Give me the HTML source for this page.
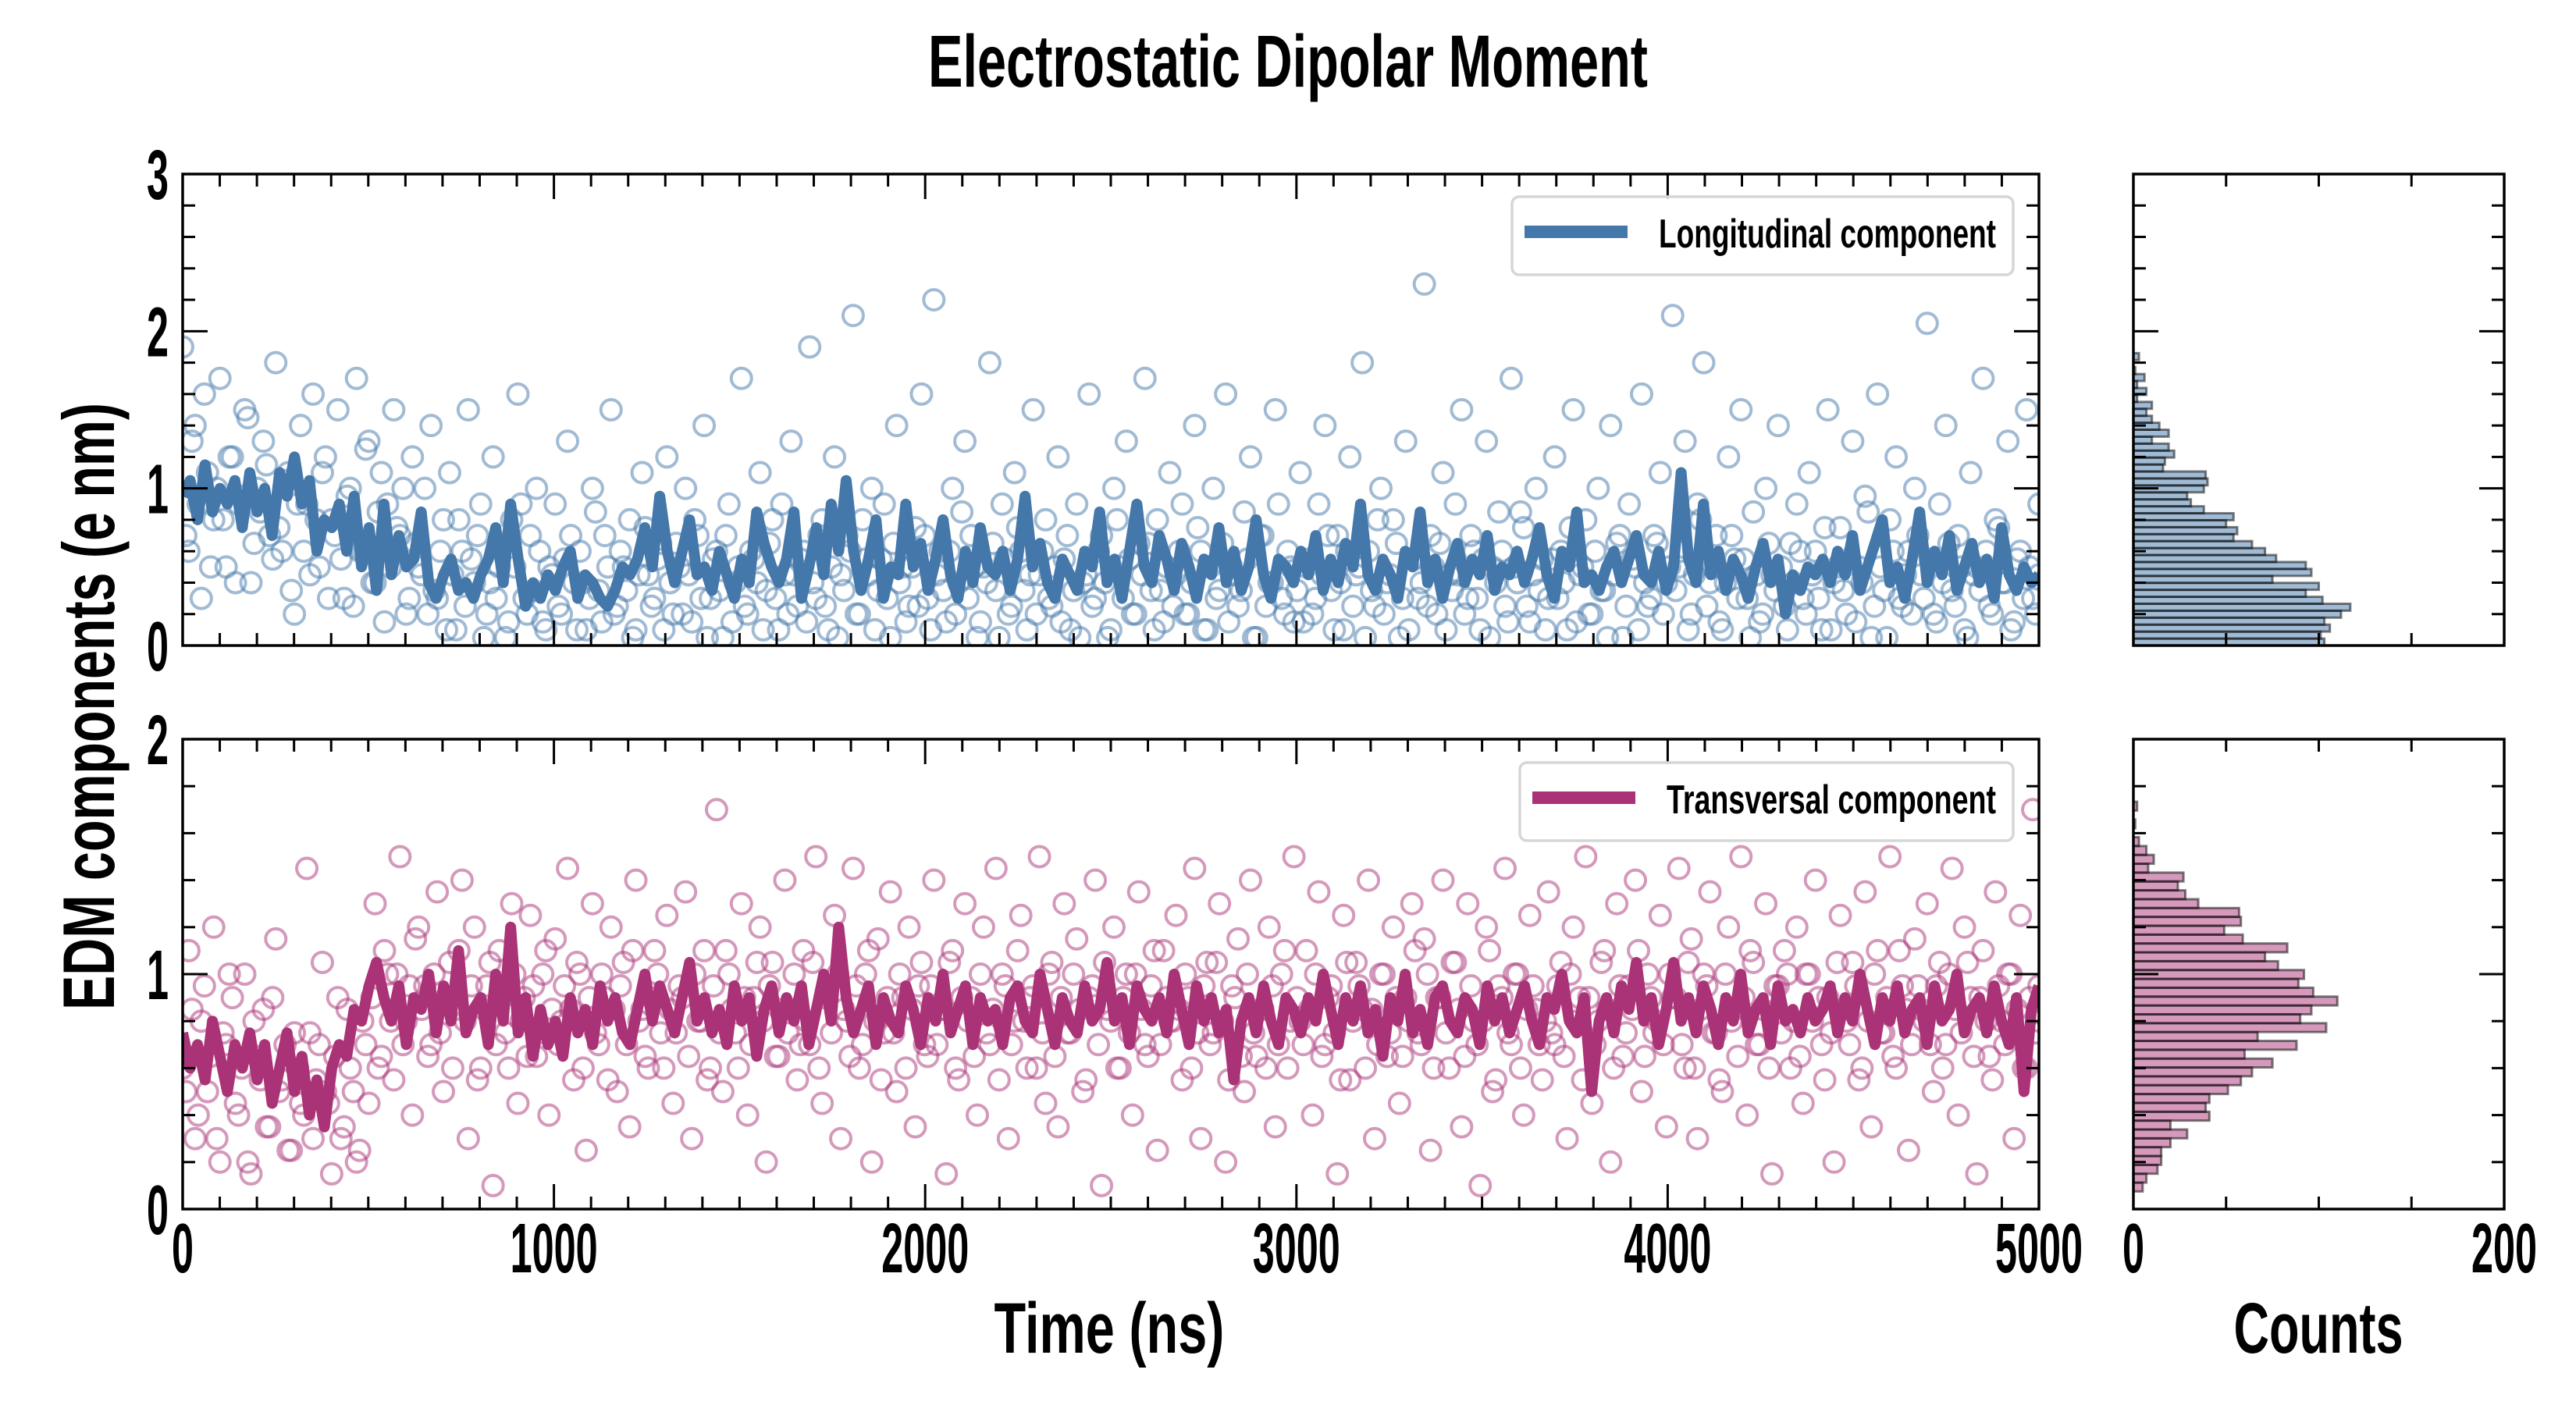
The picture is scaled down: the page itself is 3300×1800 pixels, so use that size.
<!DOCTYPE html>
<html><head><meta charset="utf-8">
<style>
html,body{margin:0;padding:0;background:#fff;}
svg{display:block;}
text{font-family:"Liberation Sans Narrow","Liberation Sans",sans-serif;font-weight:bold;fill:#000;}
</style></head>
<body>
<svg id="chart" width="3300" height="1800" viewBox="0 0 3300 1800" xmlns="http://www.w3.org/2000/svg">
<defs>
<clipPath id="clipTop"><rect x="234" y="223" width="2378" height="604"/></clipPath>
<clipPath id="clipBot"><rect x="234" y="947" width="2378" height="602"/></clipPath>
</defs>
<text x="1650" y="111" font-size="95" text-anchor="middle" textLength="922" lengthAdjust="spacingAndGlyphs">Electrostatic Dipolar Moment</text>
<text transform="translate(146,905) rotate(-90)" font-size="94" text-anchor="middle" textLength="778" lengthAdjust="spacingAndGlyphs">EDM components (e nm)</text>
<text x="1421" y="1733" font-size="92" text-anchor="middle" textLength="295" lengthAdjust="spacingAndGlyphs">Time (ns)</text>
<text x="2970" y="1733" font-size="92" text-anchor="middle" textLength="217" lengthAdjust="spacingAndGlyphs">Counts</text>
<g id="layer"></g>
</svg>
<script>
// ---- data ----
var lineTop = [
0.95,1.05,0.8,1.15,0.85,1.0,0.9,1.05,0.75,1.1,
0.85,1.0,0.7,1.1,0.95,1.2,0.9,1.05,0.6,0.8,
0.75,0.9,0.6,0.95,0.5,0.75,0.35,0.9,0.45,0.7,
0.5,0.55,0.85,0.4,0.3,0.45,0.55,0.35,0.4,0.3,
0.45,0.55,0.75,0.4,0.9,0.55,0.25,0.4,0.3,0.45,
0.35,0.5,0.6,0.3,0.45,0.4,0.3,0.25,0.35,0.5,
0.45,0.55,0.75,0.5,0.95,0.6,0.4,0.6,0.8,0.45,
0.5,0.35,0.6,0.45,0.3,0.55,0.4,0.85,0.65,0.5,
0.4,0.55,0.85,0.3,0.5,0.75,0.45,0.9,0.6,1.05,
0.6,0.35,0.55,0.8,0.3,0.5,0.45,0.9,0.5,0.65,
0.35,0.55,0.8,0.45,0.3,0.6,0.4,0.75,0.5,0.45,
0.6,0.35,0.55,0.95,0.5,0.65,0.4,0.3,0.55,0.45,
0.35,0.6,0.5,0.85,0.4,0.55,0.3,0.6,0.9,0.5,
0.4,0.7,0.55,0.35,0.65,0.5,0.3,0.55,0.45,0.75,
0.4,0.6,0.35,0.5,0.8,0.45,0.3,0.55,0.5,0.4,
0.6,0.45,0.7,0.35,0.55,0.4,0.65,0.5,0.9,0.45,
0.35,0.55,0.45,0.3,0.6,0.5,0.85,0.4,0.55,0.3,
0.5,0.65,0.4,0.55,0.45,0.7,0.35,0.5,0.45,0.6,
0.4,0.55,0.75,0.45,0.3,0.6,0.5,0.85,0.4,0.45,
0.35,0.5,0.6,0.4,0.55,0.7,0.45,0.4,0.6,0.35,
0.5,1.1,0.55,0.4,0.9,0.45,0.6,0.35,0.55,0.45,
0.3,0.5,0.65,0.4,0.55,0.2,0.45,0.35,0.5,0.45,
0.55,0.4,0.6,0.45,0.7,0.35,0.5,0.65,0.8,0.4,
0.5,0.3,0.55,0.85,0.4,0.6,0.45,0.7,0.35,0.5,
0.65,0.4,0.55,0.3,0.75,0.45,0.35,0.5,0.4,0.45];
var lineBot = [
0.75,0.6,0.7,0.55,0.8,0.65,0.5,0.7,0.6,0.75,
0.55,0.7,0.45,0.6,0.75,0.5,0.65,0.4,0.55,0.35,
0.6,0.7,0.65,0.85,0.8,0.95,1.05,0.9,0.8,0.95,
0.7,0.9,0.85,1.0,0.75,0.95,0.8,1.1,0.75,0.85,
0.9,0.7,1.0,0.8,1.2,0.75,0.9,0.65,0.85,0.7,
0.8,0.65,0.9,0.75,0.85,0.7,0.95,0.8,0.9,0.75,
0.7,0.85,1.0,0.8,0.95,0.85,0.75,0.9,1.05,0.8,
0.9,0.75,0.85,0.7,0.95,0.8,0.9,0.65,0.85,0.95,
0.75,0.9,0.8,0.95,0.7,0.85,1.0,0.8,1.2,0.9,
0.75,0.85,0.95,0.7,0.9,0.8,0.75,0.95,0.85,0.7,
0.9,0.8,1.0,0.75,0.85,0.95,0.7,0.9,0.8,0.85,
0.7,0.9,0.95,0.8,0.75,1.0,0.85,0.7,0.9,0.8,
0.75,0.95,0.8,0.85,1.05,0.8,0.9,0.7,0.95,0.85,
0.8,0.9,0.75,1.0,0.85,0.7,0.95,0.8,0.9,0.75,
0.85,0.55,0.8,0.9,0.75,0.95,0.8,0.7,0.9,0.85,
0.75,0.9,0.8,1.0,0.85,0.7,0.9,0.8,0.95,0.75,
0.85,0.65,0.9,0.8,1.0,0.75,0.85,0.7,0.9,0.95,
0.8,0.75,0.9,0.85,0.7,0.95,0.8,0.9,0.75,0.85,
0.95,0.8,0.7,0.9,0.85,1.0,0.8,0.75,0.9,0.5,
0.8,0.9,0.75,0.95,0.85,1.05,0.8,0.9,0.7,0.85,
1.05,0.8,0.9,0.75,0.95,0.85,0.7,0.9,0.8,1.0,
0.75,0.85,0.9,0.7,0.95,0.8,0.85,0.75,0.9,0.8,
0.85,0.95,0.75,0.9,0.8,1.0,0.85,0.7,0.9,0.8,
0.95,0.75,0.85,0.9,0.7,0.95,0.8,0.85,1.0,0.75,
0.85,0.9,0.75,0.95,0.8,0.7,0.9,0.5,0.85,0.95];
var scatterTop = [
1.9,0.6,1.4,0.3,1.1,0.8,1.7,0.5,1.2,0.9,1.5,0.4,1.0,1.3,0.7,1.8,0.6,1.1,0.2,1.4,
0.9,1.6,0.5,1.2,0.8,1.5,0.3,1.0,1.7,0.6,1.3,0.4,1.1,0.9,1.5,0.7,0.2,1.2,0.5,1.0,
1.4,0.3,0.8,1.1,0.1,0.6,1.5,0.4,0.9,0.2,1.2,0.5,0.05,0.8,1.6,0.3,0.7,1.0,0.15,0.5,
0.9,0.2,1.3,0.4,0.6,0.1,1.0,0.35,0.7,1.5,0.25,0.5,0.8,0.1,1.1,0.45,0.3,0.65,1.2,0.2,
0.5,1.0,0.15,0.7,1.4,0.3,0.6,0.05,0.9,0.4,1.7,0.2,0.55,1.1,0.35,0.8,0.1,0.45,1.3,0.25,
0.6,1.9,0.3,0.8,0.1,1.2,0.45,0.7,2.1,0.2,0.55,1.0,0.35,0.9,0.05,1.4,0.5,0.25,0.75,1.6,
0.3,2.2,0.6,0.15,1.0,0.4,1.3,0.7,0.05,0.5,1.8,0.35,0.9,0.2,1.1,0.6,0.1,1.5,0.45,0.8,
0.25,1.2,0.55,0.1,0.9,0.4,1.6,0.3,0.7,0.05,1.0,0.5,1.3,0.2,0.65,1.7,0.35,0.8,0.15,1.1,
0.45,0.9,0.2,1.4,0.6,0.1,1.0,0.35,1.6,0.5,0.25,0.85,1.2,0.05,0.7,0.4,1.5,0.3,0.6,0.15,
1.1,0.5,0.2,0.9,1.4,0.35,0.7,0.1,1.2,0.45,1.8,0.6,0.25,1.0,0.4,0.8,0.05,1.3,0.55,0.3,
2.3,0.7,0.2,1.1,0.45,0.9,1.5,0.3,0.6,0.1,1.3,0.5,0.85,0.25,1.7,0.4,0.75,0.15,1.0,0.55,
0.3,1.2,0.6,0.1,1.5,0.45,0.8,0.2,1.0,0.35,1.4,0.65,0.05,0.9,0.5,1.6,0.25,0.7,1.1,0.4,
2.1,0.5,1.3,0.2,0.9,1.8,0.4,0.7,0.1,1.2,0.55,1.5,0.3,0.85,0.15,1.0,0.45,1.4,0.25,0.65,
0.9,0.3,1.1,0.6,0.1,1.5,0.4,0.75,0.2,1.3,0.5,0.95,0.05,1.6,0.35,0.8,1.2,0.25,0.6,1.0,
0.45,2.05,0.2,0.9,1.4,0.35,0.7,0.1,1.1,0.5,1.7,0.25,0.8,0.4,1.3,0.15,0.6,1.5,0.3,0.9];
var scatterTop2 = [
0.7,1.3,0.9,1.6,0.5,1.0,0.8,1.2,0.4,0.95,1.45,0.65,0.85,1.15,0.55,0.75,1.05,0.35,0.9,0.6,
0.45,0.8,1.1,0.3,0.7,0.55,0.95,0.25,0.6,1.25,0.4,0.85,0.15,0.5,0.75,1.0,0.3,0.65,0.45,0.2,
0.35,0.6,0.1,0.45,0.8,0.25,0.55,0.7,0.05,0.4,0.3,0.65,0.15,0.5,0.9,0.2,0.35,0.6,0.1,0.45,
0.25,0.55,0.7,0.1,0.4,0.3,0.85,0.15,0.5,0.2,0.6,0.35,0.05,0.45,0.75,0.25,0.55,0.1,0.4,0.65,
0.2,0.45,0.8,0.3,0.05,0.55,0.35,0.7,0.15,0.5,0.25,0.6,0.4,0.1,0.65,0.3,0.9,0.2,0.45,0.55,
0.15,0.4,0.7,0.25,0.5,0.05,0.35,0.6,0.2,0.8,0.45,0.1,0.55,0.3,0.65,0.4,0.15,0.5,0.25,0.7,
0.1,0.45,0.35,0.6,0.2,0.85,0.3,0.5,0.15,0.4,0.65,0.05,0.55,0.25,0.75,0.35,0.45,0.2,0.6,0.3,
0.5,0.15,0.7,0.35,0.05,0.45,0.25,0.6,0.4,0.1,0.8,0.3,0.55,0.2,0.45,0.65,0.1,0.35,0.5,0.25,
0.6,0.2,0.4,0.75,0.1,0.5,0.3,0.65,0.15,0.45,0.35,0.55,0.05,0.7,0.25,0.4,0.9,0.2,0.5,0.35,
0.15,0.55,0.3,0.45,0.7,0.1,0.4,0.6,0.25,0.5,0.05,0.35,0.8,0.2,0.45,0.65,0.3,0.1,0.55,0.4,
0.25,0.5,0.65,0.1,0.35,0.45,0.2,0.7,0.3,0.55,0.05,0.4,0.6,0.15,0.5,0.85,0.25,0.45,0.35,0.1,
0.55,0.3,0.4,0.75,0.15,0.5,0.2,0.6,0.35,0.05,0.45,0.7,0.25,0.55,0.1,0.4,0.3,0.65,0.2,0.5,
0.35,0.6,0.1,0.45,0.8,0.25,0.5,0.15,0.4,0.7,0.3,0.55,0.05,0.45,0.2,0.65,0.35,0.5,0.1,0.4,
0.6,0.2,0.45,0.3,0.75,0.1,0.5,0.35,0.55,0.15,0.4,0.85,0.25,0.5,0.05,0.6,0.3,0.45,0.2,0.7,
0.3,0.55,0.15,0.4,0.65,0.25,0.5,0.05,0.45,0.35,0.6,0.2,0.75,0.4,0.1,0.55,0.3,0.5,0.2,0.45];
var scatterBot = [
0.6,1.1,0.3,0.8,0.5,1.2,0.2,0.7,0.9,0.4,1.0,0.15,0.65,0.85,0.35,1.15,0.55,0.25,0.75,0.45,
1.45,0.3,0.7,0.5,0.15,0.9,0.35,0.6,0.2,0.8,0.45,1.3,0.65,1.0,0.55,1.5,0.8,0.4,1.2,0.95,
0.7,1.35,0.5,1.05,0.85,1.4,0.3,1.2,0.6,0.95,0.1,1.1,0.75,1.3,0.45,0.9,1.25,0.65,1.0,0.4,
1.15,0.8,1.45,0.55,1.0,0.25,1.3,0.7,0.9,1.2,0.5,1.05,0.35,1.4,0.85,0.6,1.1,0.75,1.25,0.45,
0.95,1.35,0.3,0.8,1.1,0.6,1.7,0.5,1.0,0.75,1.3,0.4,0.9,1.2,0.2,1.05,0.65,1.4,0.85,0.55,
1.1,0.7,1.5,0.45,0.95,1.25,0.3,0.8,1.45,0.6,1.0,0.2,1.15,0.75,1.35,0.5,0.9,1.2,0.35,1.05,
0.65,1.4,0.85,0.15,1.1,0.55,1.3,0.9,0.4,1.2,0.7,1.45,1.0,0.3,0.8,1.25,0.6,0.95,1.5,0.45,
1.05,0.35,1.3,0.75,1.15,0.5,0.9,1.4,0.1,0.85,1.2,0.6,1.0,0.4,1.35,0.7,0.95,0.25,1.1,0.8,
1.25,0.55,0.9,1.45,0.3,1.05,0.75,1.3,0.2,0.95,1.15,0.5,1.4,0.65,0.85,1.2,0.35,1.0,0.6,1.5,
0.8,1.1,0.4,1.35,0.7,0.95,0.15,1.25,0.55,1.05,0.85,1.4,0.3,1.0,0.65,1.2,0.45,0.9,1.3,0.75,
1.15,0.25,0.9,1.4,0.6,1.05,0.35,1.3,0.8,0.1,1.2,0.5,0.95,1.45,0.7,1.0,0.4,1.25,0.85,0.55,
1.35,0.7,1.05,0.3,1.2,0.9,1.5,0.45,0.8,1.1,0.2,1.3,0.65,0.95,1.4,0.5,1.0,0.75,1.25,0.35,
0.9,1.45,0.6,1.15,0.3,1.0,1.35,0.75,0.5,1.2,0.85,1.5,0.4,1.05,0.7,1.3,0.15,0.95,1.1,0.6,
1.2,0.45,1.0,1.4,0.7,0.9,0.2,1.25,0.8,1.05,0.55,1.35,0.35,1.1,0.75,1.5,0.6,0.95,0.25,1.15,
0.85,1.3,0.5,1.05,0.7,1.45,0.4,1.2,0.9,0.15,1.1,0.65,1.35,0.8,1.0,0.3,1.25,0.6,1.7,0.95];
var scatterBot2 = [
0.5,0.85,0.4,0.95,0.65,0.3,0.75,1.0,0.45,0.6,0.2,0.8,0.55,0.35,0.9,0.5,0.7,0.25,0.6,0.4,
0.75,0.55,1.05,0.45,0.65,0.3,0.85,0.5,0.25,0.7,0.9,0.6,1.1,0.8,1.0,0.7,0.95,1.15,0.85,0.65,
1.0,0.75,0.9,0.6,1.1,0.8,0.95,0.55,0.85,1.05,0.7,0.9,0.6,1.0,0.8,0.65,0.95,0.75,1.1,0.85,
0.7,0.95,0.85,1.05,0.6,0.9,0.75,1.0,0.55,0.85,0.95,0.7,1.1,0.8,0.65,0.9,1.0,0.6,0.85,0.75,
0.9,0.65,1.0,0.8,0.55,0.95,0.75,1.1,0.85,0.6,0.9,0.7,1.05,0.8,0.95,0.65,0.85,0.75,1.0,0.7,
0.8,1.05,0.6,0.9,0.75,1.0,0.85,0.65,0.95,0.7,1.1,0.8,0.55,0.9,0.75,1.0,0.6,0.85,0.95,0.7,
0.95,0.7,0.85,1.05,0.6,0.9,0.8,0.65,1.0,0.75,0.85,0.55,0.95,0.7,1.1,0.8,0.9,0.6,0.75,1.0,
0.65,0.9,0.75,1.0,0.85,0.55,0.95,0.7,1.05,0.8,0.6,0.9,0.75,1.0,0.85,0.65,1.1,0.7,0.9,0.8,
0.85,1.0,0.6,0.75,0.95,0.7,1.05,0.8,0.55,0.9,0.65,1.0,0.75,0.85,0.6,0.95,0.7,1.1,0.8,0.9,
0.7,0.85,1.0,0.65,0.9,0.75,0.55,1.05,0.8,0.95,0.6,0.85,0.7,1.0,0.75,0.9,0.65,0.8,1.1,0.7,
1.0,0.6,0.9,0.75,1.05,0.85,0.65,0.95,0.7,0.8,1.1,0.55,0.9,0.75,1.0,0.6,0.85,0.95,0.7,0.8,
0.75,0.95,0.65,1.0,0.8,0.55,0.9,0.7,1.05,0.85,0.6,0.95,0.75,0.85,1.1,0.65,0.9,0.8,0.7,1.0,
0.9,0.7,1.05,0.6,0.85,0.95,0.75,0.55,1.0,0.8,0.65,0.9,1.1,0.7,0.85,0.6,0.95,0.75,1.0,0.8,
0.65,1.0,0.8,0.9,0.55,0.75,1.05,0.85,0.7,0.95,0.6,0.8,1.0,0.75,0.9,0.65,1.1,0.85,0.7,0.95,
0.8,0.7,0.95,0.6,1.0,0.85,0.75,1.05,0.65,0.9,0.8,0.55,0.95,0.7,1.0,0.85,0.6,0.9,0.75,0.8];
var histTopCounts = [103,101,106,103,112,117,102,93,100,75,96,93,77,71,64,54,56,50,54,38,31,29,38,40,39,16,17,22,19,10,19,14,10,7,10,2,7,2,6,1,0,3];
var histTopStart = 0, histTopBin = 0.0443;
var histBotCounts = [5,7,13,15,15,20,29,20,41,39,41,51,58,64,75,60,88,67,104,90,96,110,97,89,92,78,71,83,59,49,58,57,35,28,24,27,8,11,7,3,0,1,0,2];
var histBotStart = 0.075, histBotBin = 0.0377;
var xTickLabels = ["0","1000","2000","3000","4000","5000"];
var yTopTickLabels = ["0","1","2","3"];
var yBotTickLabels = ["0","1","2"];
var histTickLabels = ["0","200"];

// ---- scales ----
var MX0=234, MX1=2612, HX0=2733, HX1=3208;
var TY0=827, TY1=223, BY0=1549, BY1=947;
function xT(t){ return MX0 + (t/5000)*(MX1-MX0); }
function yTop(v){ return TY0 - (v/3)*(TY0-TY1); }
function yBot(v){ return BY0 - (v/2)*(BY0-BY1); }
function xH(c){ return HX0 + (c/200)*(HX1-HX0); }

var NS="http://www.w3.org/2000/svg";
var layer=document.getElementById('layer');
function mk(tag, attrs, parent){
  var e=document.createElementNS(NS,tag);
  for(var k in attrs) e.setAttribute(k,attrs[k]);
  (parent||layer).appendChild(e); return e;
}
var BLUE="#4477AA", PINK="#AA3377";

function scatter(vals, offset, yf, color, clip, name){
  var g=mk('g',{'clip-path':'url(#'+clip+')'});
  
  
  var step=5000/(vals.length-1);
  for(var i=0;i<vals.length;i++){
    var t=Math.min(5000, i*step+offset*step);
    var c=mk('circle',{cx:xT(t),cy:yf(vals[i]),r:13,fill:'none',stroke:color,'stroke-opacity':0.5,'stroke-width':4},g);
    
    
  }
}
function line(vals, yf, color, clip, name){
  var d='';
  for(var i=0;i<vals.length;i++){ d+=(i?'L':'M')+xT(i*5000/(vals.length-1)).toFixed(1)+','+yf(vals[i]).toFixed(1); }
  var p=mk('path',{d:d,fill:'none',stroke:color,'stroke-width':14,'stroke-linejoin':'round','clip-path':'url(#'+clip+')'});
  
  
}
function hist(counts, start, bin, yf, color, name){
  var g=mk('g',{});
  
  
  for(var i=0;i<counts.length;i++){
    var ya=yf(start+i*bin), yb=yf(start+(i+1)*bin);
    var r=mk('rect',{x:HX0,y:yb,width:xH(counts[i])-HX0,height:ya-yb,fill:color,'fill-opacity':0.5,stroke:'#000','stroke-opacity':0.5,'stroke-width':3},g);
    
    
  }
}
scatter(scatterTop, 0, yTop, BLUE, 'clipTop', 'longitudinal-scatter');
scatter(scatterTop2, 0.5, yTop, BLUE, 'clipTop', 'longitudinal-scatter-2');
line(lineTop, yTop, BLUE, 'clipTop', 'longitudinal-line');
scatter(scatterBot, 0, yBot, PINK, 'clipBot', 'transversal-scatter');
scatter(scatterBot2, 0.5, yBot, PINK, 'clipBot', 'transversal-scatter-2');
line(lineBot, yBot, PINK, 'clipBot', 'transversal-line');
hist(histTopCounts, histTopStart, histTopBin, yTop, BLUE, 'longitudinal-histogram');
hist(histBotCounts, histBotStart, histBotBin, yBot, PINK, 'transversal-histogram');

// ---- axes ----
function tick(x1,y1,x2,y2){ mk('line',{x1:x1,y1:y1,x2:x2,y2:y2,stroke:'#000','stroke-width':3}); }
function frame(x0,y0,x1,y1,name){
  var r=mk('rect',{x:x0,y:y1,width:x1-x0,height:y0-y1,fill:'none',stroke:'#000','stroke-width':3.5});
  
  
}
function yTicks(x0,x1,yf,max){
  for(var k=0;k<=max*5;k++){
    var v=k/5, y=yf(v), L=(k%5===0)?32:16;
    tick(x0,y,x0+L,y); tick(x1,y,x1-L,y);
  }
}
[[TY0,TY1,yTop,3],[BY0,BY1,yBot,2]].forEach(function(p){
  for(var t=0;t<=5000;t+=100){
    var L=(t%1000===0)?32:16, x=xT(t);
    tick(x,p[0],x,p[0]-L); tick(x,p[1],x,p[1]+L);
  }
  yTicks(MX0,MX1,p[2],p[3]);
  yTicks(HX0,HX1,p[2],p[3]);
  for(var c=50;c<200;c+=50){
    var hx=xH(c);
    tick(hx,p[0],hx,p[0]-16); tick(hx,p[1],hx,p[1]+16);
  }
});
frame(MX0,TY0,MX1,TY1,'top-plot-area');
frame(MX0,BY0,MX1,BY1,'bottom-plot-area');
frame(HX0,TY0,HX1,TY1,'top-histogram-area');
frame(HX0,BY0,HX1,BY1,'bottom-histogram-area');

function label(txt,x,y,anchor,name){
  var t=mk('text',{x:x,y:y,'font-size':90,'text-anchor':anchor,textLength:28*txt.length,lengthAdjust:'spacingAndGlyphs'});
  t.textContent=txt;
  
  
}
xTickLabels.forEach(function(s,i){ label(s, xT(i*1000), 1630, 'middle', 'x-tick-label'); });
yTopTickLabels.forEach(function(s,i){ label(s, 216, yTop(i)+32, 'end', 'y-tick-label-top'); });
yBotTickLabels.forEach(function(s,i){ label(s, 216, yBot(i)+32, 'end', 'y-tick-label-bottom'); });
histTickLabels.forEach(function(s,i){ label(s, xH(i*200), 1630, 'middle', 'hist-x-tick-label'); });

// ---- legends ----
function legend(y0, color, txt, name, x0){
  var g=mk('g',{});
  
  
  mk('rect',{x:x0,y:y0,width:2579-x0,height:100,rx:9,fill:'#fff','fill-opacity':0.8,stroke:'#d6d6d6','stroke-width':3.5},g);
  mk('line',{x1:x0+16,y1:y0+45,x2:x0+148,y2:y0+45,stroke:color,'stroke-width':16},g);
  var t=mk('text',{x:x0+188,y:y0+65,'font-size':52,textLength:2557-(x0+188),lengthAdjust:'spacingAndGlyphs'},g);
  t.textContent=txt;
}
legend(252, BLUE, 'Longitudinal component', 'legend-longitudinal', 1937);
legend(977, PINK, 'Transversal component', 'legend-transversal', 1947);
</script>
</body></html>
